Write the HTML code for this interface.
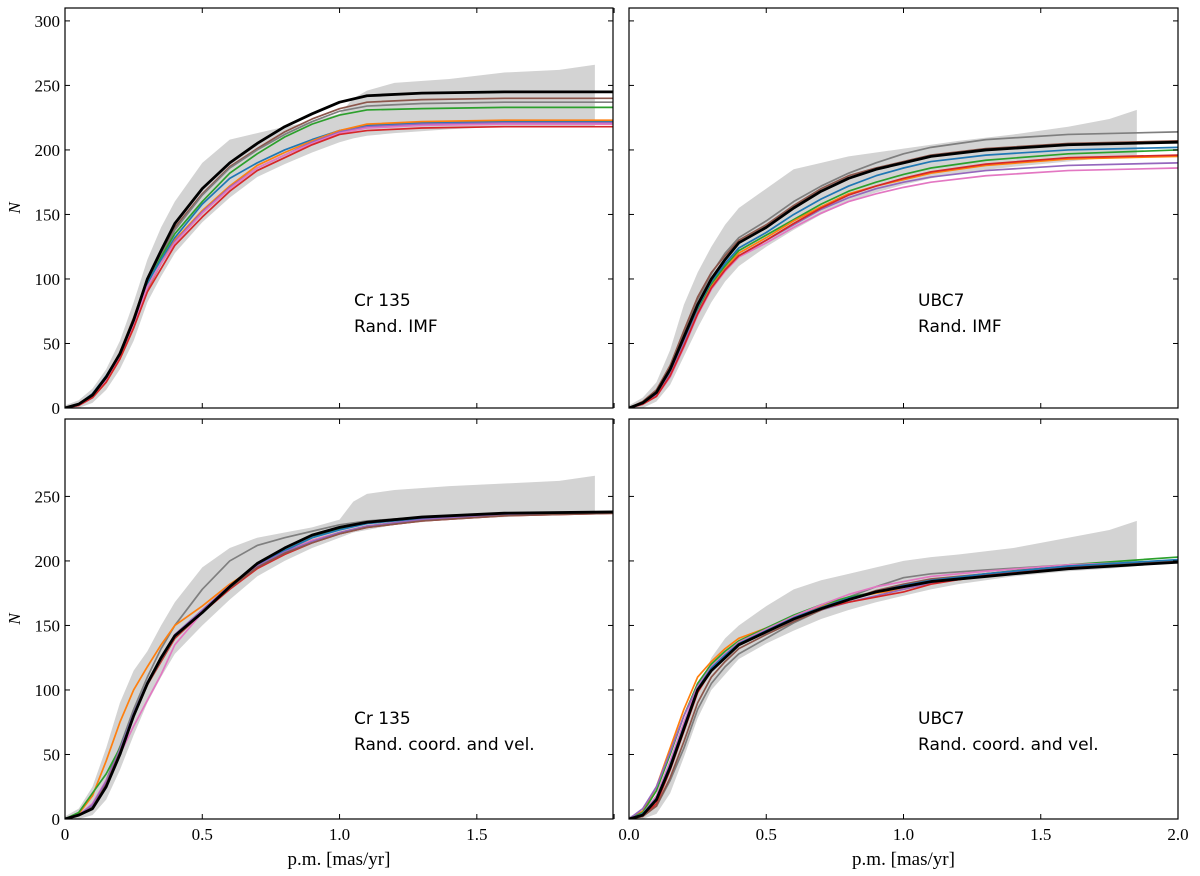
<!DOCTYPE html>
<html><head><meta charset="utf-8"><style>
body{margin:0;background:#fff;}
svg text{font-family:"Liberation Serif",serif;}
.ann{font-family:"DejaVu Sans","Liberation Sans",sans-serif;font-size:17px;}
</style></head><body>
<svg id="fig" width="1200" height="871" xmlns="http://www.w3.org/2000/svg"></svg>
<script>
const grid=[0,.05,.1,.15,.2,.25,.3,.35,.4,.5,.6,.7,.8,.9,1.0,1.1,1.3,1.6,2.0];
const colors={black:'#000',brown:'#8c564b',gray:'#7f7f7f',green:'#2ca02c',blue:'#1f77b4',orange:'#ff7f0e',purple:'#9467bd',pink:'#e377c2',red:'#d62728'};
// Panel A: Cr 135 Rand. IMF
const aSeries={
brown:[0,3,11,24,43,70,100,120,140,166,187,201,214,224,232,237,239,240,240],
gray:[0,2,9,22,40,66,97,118,138,165,186,200,212,222,230,234,236,237,237],
green:[0,2,9,22,41,66,96,117,135,160,182,197,210,220,227,231,232,233,233],
blue:[0,3,11,25,42,67,97,115,132,158,178,190,200,208,215,219,221,222,222],
orange:[0,2,8,20,38,62,92,112,130,153,172,188,198,207,215,220,222,223,223],
purple:[0,2,8,21,39,64,93,112,129,152,171,186,196,206,214,218,220,221,221],
pink:[0,2,8,21,39,64,94,112,128,151,170,186,196,205,213,217,219,220,220],
red:[0,2,8,20,38,62,90,108,126,148,168,184,194,204,212,215,217,218,218],
black:[0,3,10,24,42,68,100,122,143,170,190,205,218,228,237,242,244,245,245]};
const aBandX=[0,.05,.1,.15,.2,.25,.3,.35,.4,.5,.6,.7,.8,.9,1.0,1.05,1.1,1.2,1.4,1.6,1.8,1.93];
const aBandHi=[2,6,15,30,52,82,115,140,160,190,208,213,218,222,228,240,246,252,255,260,262,266];
const aBandLo=[0,0,4,14,30,52,82,102,120,144,163,179,189,198,206,209,211,213,216,218,218,218];
// Panel B: UBC7 Rand. IMF
const bSeries={
gray:[0,4,13,32,58,84,104,120,132,145,160,172,182,190,197,202,208,212,214],
brown:[0,5,14,33,60,86,105,118,130,142,157,170,180,186,191,196,201,205,207],
green:[0,4,11,28,52,76,96,110,122,134,146,158,168,175,181,186,192,197,200],
blue:[0,4,11,28,53,78,98,112,124,136,150,162,172,180,186,191,196,200,202],
orange:[0,3,10,26,50,74,94,108,120,132,145,156,166,172,177,182,188,193,195],
purple:[0,3,10,26,50,74,93,107,118,130,142,154,163,170,175,179,184,188,190],
pink:[0,3,9,24,47,72,92,106,117,128,140,151,160,166,171,175,180,184,186],
red:[0,3,9,25,48,73,93,107,118,130,143,155,165,172,178,183,189,194,196],
black:[0,4,12,30,55,80,100,115,128,140,155,168,178,185,190,195,200,204,206]};
const bBandX=[0,.05,.1,.15,.2,.25,.3,.35,.4,.5,.6,.7,.8,.9,1.0,1.1,1.2,1.4,1.6,1.75,1.85];
const bBandHi=[2,8,20,45,80,105,125,142,155,170,185,190,195,198,201,204,207,212,218,224,231];
const bBandLo=[0,0,5,18,40,62,82,98,110,125,138,150,160,167,173,178,182,187,191,194,196];
// Panel C: Cr 135 Rand. coord. and vel.
const cSeries={
gray:[0,3,10,30,56,85,110,132,150,178,200,212,218,223,228,231,234,237,238],
orange:[0,4,18,45,75,100,118,135,150,165,182,196,207,216,222,227,232,236,238],
green:[0,5,20,35,55,82,105,124,140,160,180,196,208,218,225,230,234,237,238],
pink:[0,3,12,30,50,72,92,112,135,160,180,196,207,216,222,227,232,236,238],
red:[0,3,10,27,52,80,104,122,140,160,178,194,205,214,221,226,231,235,237],
blue:[0,3,10,28,54,82,106,125,142,161,180,197,208,218,224,229,233,236,238],
purple:[0,3,11,29,54,82,106,125,143,162,181,196,207,215,222,227,232,236,238],
brown:[0,3,9,27,52,80,104,123,141,160,179,195,206,214,221,226,231,235,237],
black:[0,3,8,25,50,80,105,125,142,160,180,198,210,220,226,230,234,237,238]};
const cBandX=[0,.05,.1,.15,.2,.25,.3,.35,.4,.5,.6,.7,.8,.9,1.0,1.05,1.1,1.2,1.4,1.6,1.8,1.93];
const cBandHi=[2,8,25,55,90,115,130,150,168,195,210,218,222,226,232,246,252,255,258,260,262,266];
const cBandLo=[0,0,3,15,38,65,90,110,128,150,170,188,200,210,218,222,224,228,232,234,236,236];
// Panel D: UBC7 Rand. coord. and vel.
const dSeries={
gray:[0,3,10,30,55,85,105,118,128,140,152,162,172,180,187,190,193,197,200],
orange:[0,6,25,55,85,110,122,132,140,148,157,165,171,175,178,183,188,194,200],
green:[0,5,22,50,80,105,120,130,138,148,158,166,172,176,180,185,190,197,203],
purple:[0,8,25,52,80,103,118,128,136,146,154,162,168,173,178,183,189,195,200],
red:[0,2,12,38,68,98,115,126,136,146,155,163,168,172,176,182,189,195,200],
pink:[0,4,18,45,75,102,118,128,137,147,157,166,174,180,184,188,192,197,200],
brown:[0,2,10,32,60,90,110,122,132,143,153,162,170,177,182,186,190,196,200],
blue:[0,4,16,42,72,101,117,127,136,146,156,164,171,176,181,185,190,196,201],
black:[0,3,15,40,70,100,115,125,135,145,155,163,170,176,180,184,188,194,199]};
const dBandX=[0,.05,.1,.15,.2,.25,.3,.35,.4,.5,.6,.7,.8,.9,1.0,1.1,1.2,1.4,1.6,1.75,1.85];
const dBandHi=[2,6,18,40,70,100,125,140,150,165,178,185,190,195,200,203,205,210,218,224,231];
const dBandLo=[0,0,4,20,48,78,100,112,124,136,146,155,162,168,173,178,182,188,192,194,196];
const yTicksTop=[0,50,100,150,200,250,300];
const yTicksBot=[0,50,100,150,200,250];
const xTicks=[0,0.5,1.0,1.5,2.0];
const xLabelsC=['0','0.5','1.0','1.5',''];
const xLabelsD=['0.0','0.5','1.0','1.5','2.0'];

const NS='http://www.w3.org/2000/svg';
const svg=document.getElementById('fig');
function mk(tag,attrs,parent){const e=document.createElementNS(NS,tag);for(const k in attrs)e.setAttribute(k,attrs[k]);(parent||svg).appendChild(e);return e;}

function panel(id,x0,x1,yT,yB,xmax,series,bx,bhi,blo,yTicks,yLabels,xLabels,t1,t2,tx,ty){
  const g=mk('g',{});
  
  
  const sx=v=>x0+(x1-x0)*v/xmax;
  const sy=v=>yB-v*(yB-yT)/310;
  const clip=mk('clipPath',{id:'clip-'+id},g);
  mk('rect',{x:x0,y:yT,width:x1-x0,height:yB-yT},clip);
  const pg=mk('g',{'clip-path':'url(#clip-'+id+')'},g);
  let pts=bx.map((x,i)=>sx(x)+','+sy(bhi[i]));
  for(let i=bx.length-1;i>=0;i--)pts.push(sx(bx[i])+','+sy(blo[i]));
  const band=mk('polygon',{points:pts.join(' '),fill:'#d3d3d3'},pg);
  
  
  for(const k in series){
    const p=mk('polyline',{points:grid.map((x,i)=>sx(x)+','+sy(series[k][i])).join(' '),fill:'none',stroke:colors[k],'stroke-width':k==='black'?2.8:1.7,'stroke-linejoin':'round'},pg);
    
    
  }
  mk('rect',{x:x0,y:yT,width:x1-x0,height:yB-yT,fill:'none',stroke:'#000','stroke-width':1.2},g);
  yTicks.forEach(v=>{
    const y=sy(v);
    mk('line',{x1:x0,x2:x0+5,y1:y,y2:y,stroke:'#000'},g);
    mk('line',{x1:x1,x2:x1-5,y1:y,y2:y,stroke:'#000'},g);
    if(yLabels){const t=mk('text',{x:x0-5,y:y+6,'text-anchor':'end','font-size':17},g);t.textContent=v;
      }
  });
  xTicks.forEach((v,i)=>{
    const x=sx(v);
    mk('line',{x1:x,x2:x,y1:yB,y2:yB-5,stroke:'#000'},g);
    mk('line',{x1:x,x2:x,y1:yT,y2:yT+5,stroke:'#000'},g);
    if(xLabels&&xLabels[i]){const t=mk('text',{x:x,y:yB+21,'text-anchor':'middle','font-size':17},g);t.textContent=xLabels[i];
      }
  });
  const a=mk('text',{x:tx,y:ty,class:'ann'},g);a.textContent=t1;
  
  const b=mk('text',{x:tx,y:ty+26,class:'ann'},g);b.textContent=t2;
  
  if(yLabels){const n=mk('text',{x:0,y:0,'font-size':17,'font-style':'italic','text-anchor':'middle',transform:'translate(20,'+((yT+yB)/2)+') rotate(-90)'},g);n.textContent='N';
    }
  if(xLabels){const n=mk('text',{x:(x0+x1)/2,y:yB+46,'font-size':19,'text-anchor':'middle'},g);n.textContent='p.m. [mas/yr]';
    }
}
panel('panel-cr135-imf',65,613,8,408,1.996,aSeries,aBandX,aBandHi,aBandLo,yTicksTop,true,null,'Cr 135','Rand. IMF',354,306);
panel('panel-ubc7-imf',629,1178,8,408,2.0,bSeries,bBandX,bBandHi,bBandLo,yTicksTop,false,null,'UBC7','Rand. IMF',918,306);
panel('panel-cr135-coord',65,613,419,819,1.996,cSeries,cBandX,cBandHi,cBandLo,yTicksBot,true,xLabelsC,'Cr 135','Rand. coord. and vel.',354,724);
panel('panel-ubc7-coord',629,1178,419,819,2.0,dSeries,dBandX,dBandHi,dBandLo,yTicksBot,false,xLabelsD,'UBC7','Rand. coord. and vel.',918,724);
</script>
</body></html>
